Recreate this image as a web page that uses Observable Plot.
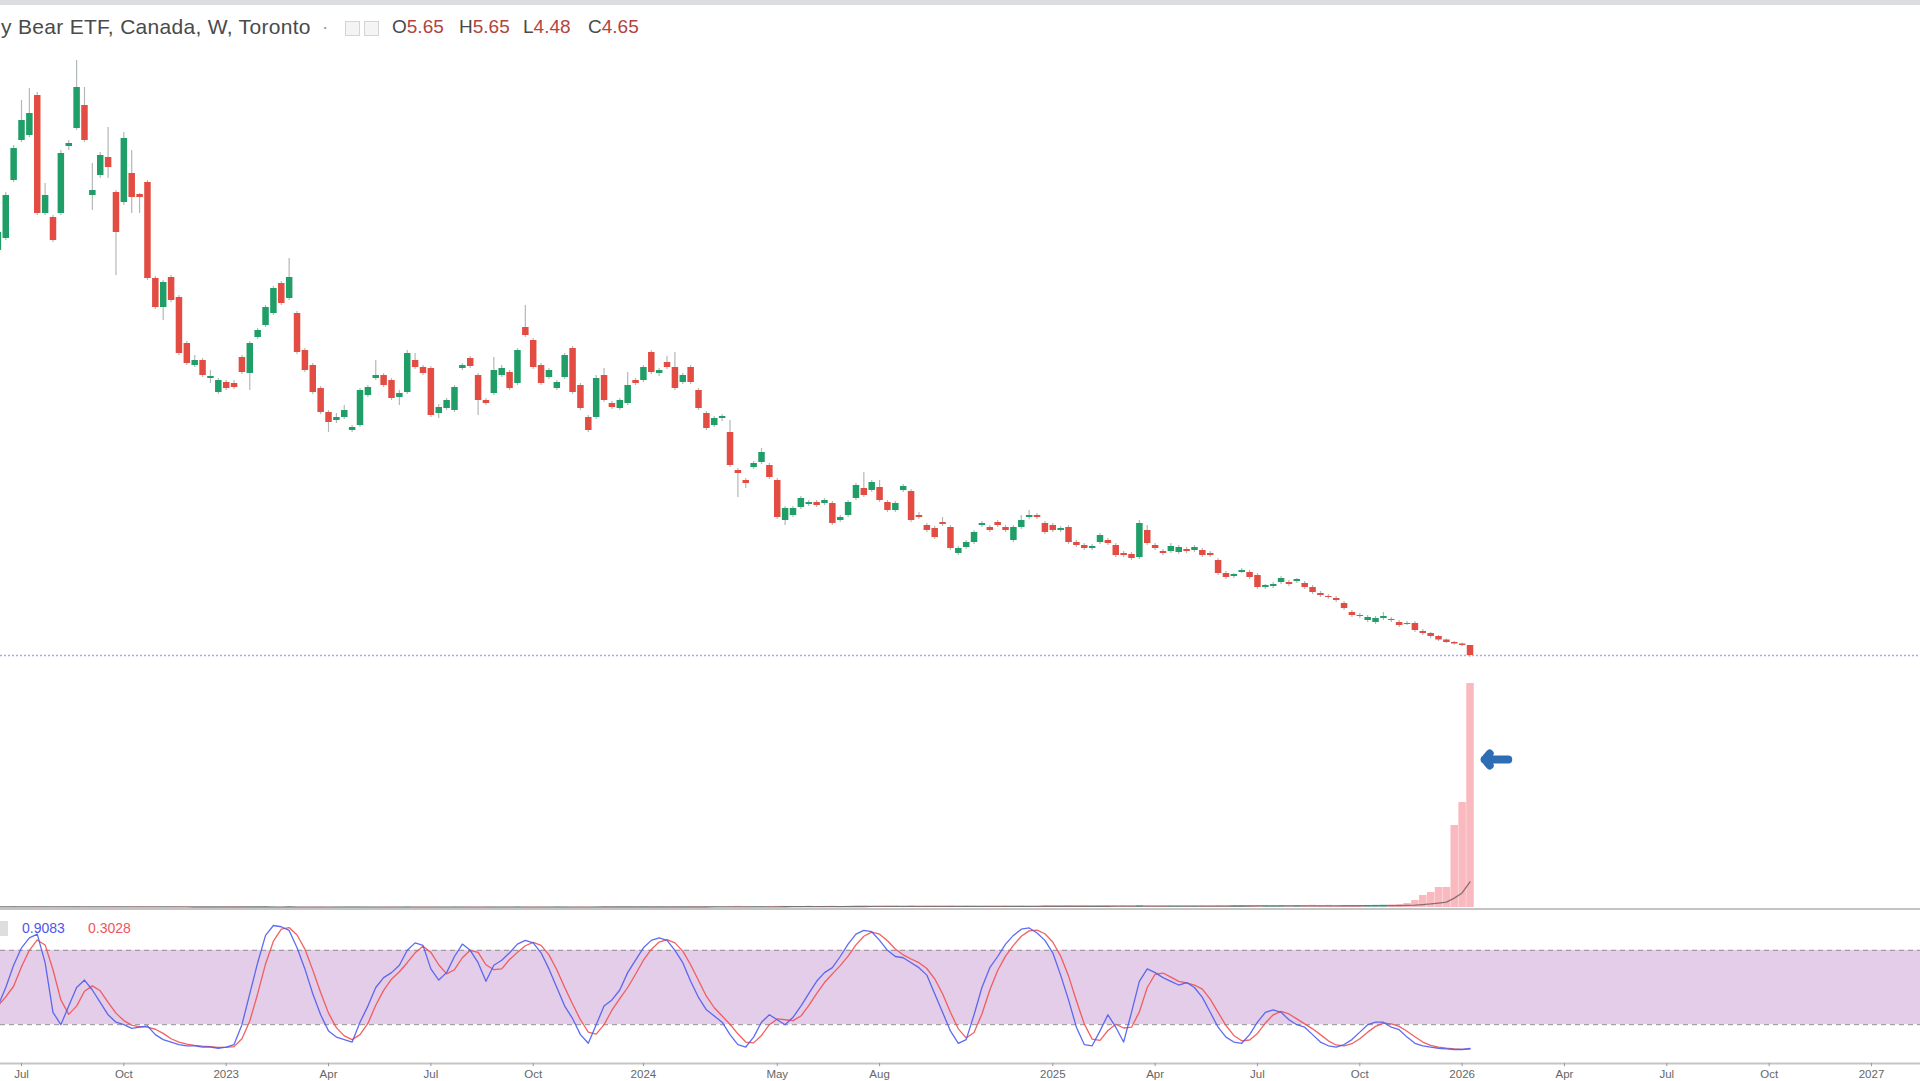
<!DOCTYPE html>
<html><head><meta charset="utf-8">
<script src="https://cdn.jsdelivr.net/npm/d3@7"></script>
<script src="https://cdn.jsdelivr.net/npm/@observablehq/plot@0.6"></script>
<style>
html,body{margin:0;padding:0;background:#fff;overflow:hidden}
#wrap{position:relative;width:1920px;height:1081px;overflow:hidden;font-family:"Liberation Sans",Arial,sans-serif}
.abs{position:absolute}
#topbar{left:0;top:0;width:1920px;height:5px;background:#dcdde1}
.hd{position:absolute;top:16px;font-size:19px;line-height:22px;white-space:nowrap;color:#4a4a4a}
.hd b{font-weight:normal;color:#b3443c}
.box{position:absolute;top:21px;width:13px;height:13px;border:1px solid #d4d4d4;background:#f4f4f4}
.lg{position:absolute;top:920px;font-size:14px;line-height:16px;white-space:nowrap}
#sep{left:0;top:908px;width:1920px;height:2px;background:#c4c4c4}
</style></head>
<body><div id="wrap">
<div id="topbar" class="abs"></div>
<div class="hd" style="left:1px;font-size:21px;letter-spacing:0.3px">y Bear ETF, Canada, W, Toronto</div>
<div class="hd" style="left:322px;color:#999">·</div>
<div class="box" style="left:345px"></div>
<div class="box" style="left:364px"></div>
<div class="hd" id="oV" style="left:392px"></div>
<div class="hd" id="hV" style="left:459px"></div>
<div class="hd" id="lV" style="left:523px"></div>
<div class="hd" id="cV" style="left:588px"></div>
<div id="pricePanel" class="abs" style="left:0;top:0"></div>
<div id="volPanel" class="abs" style="left:0;top:661px"></div>
<div id="sep" class="abs"></div>
<div id="stochPanel" class="abs" style="left:0;top:910px"></div>
<div id="axisPanel" class="abs" style="left:0;top:1062px"></div>
<div class="abs" style="left:-2px;top:921px;width:10px;height:15px;background:#dedede"></div>
<div class="lg" id="kLabel" style="left:22px;color:#4c56ee"></div>
<div class="lg" id="dLabel" style="left:88px;color:#f2545b"></div>
</div>
<script>
// ---- data (weekly bars) ----
const open = [45.15,46.35,52.15,56.15,56.65,60.65,48.85,48.45,48.85,55.55,57.35,59.65,50.65,52.65,54.45,50.95,49.95,52.85,50.75,51.95,
42.35,39.45,42.45,40.45,35.85,33.65,34.15,32.35,30.95,31.95,31.85,34.45,32.85,36.45,37.65,38.85,41.85,40.35,38.85,35.15,
33.65,31.35,28.95,28.15,28.45,27.15,27.65,30.65,32.35,32.65,32.15,30.45,30.95,34.15,33.45,33.35,28.85,29.35,29.15,33.35,
34.35,32.65,30.15,30.85,32.65,32.95,31.85,37.45,36.15,33.65,32.45,31.35,32.45,35.35,31.65,28.45,28.45,32.65,29.85,29.35,
29.85,32.15,32.15,34.95,32.85,33.95,33.45,31.95,33.45,31.15,28.85,27.65,28.35,26.95,23.15,22.15,23.45,23.95,23.65,22.15,
18.15,18.65,19.45,19.75,19.95,19.85,19.85,18.15,18.65,20.35,21.35,21.15,21.45,19.95,19.15,21.15,21.05,18.65,17.65,17.35,
17.95,17.45,14.85,15.45,15.95,17.65,17.45,17.95,17.45,16.15,17.45,18.45,18.65,17.85,17.65,17.15,17.45,15.95,15.65,15.35,
15.95,16.15,15.65,14.85,14.75,14.45,17.15,15.65,15.05,15.05,14.95,15.25,15.15,15.15,14.85,14.15,12.85,12.55,12.95,12.95,
12.65,11.45,11.55,11.95,11.95,12.05,11.85,11.45,10.85,10.55,10.35,9.85,8.95,8.65,8.15,7.95,8.35,8.25,7.95,7.85,
7.85,7.05,6.85,6.55,6.2,5.95,5.8,5.65];
const high = [47.55,50.95,55.65,60.15,61.35,60.95,51.85,48.65,55.15,56.15,64.15,61.45,53.85,54.95,57.45,51.15,56.95,55.15,50.85,52.15,
42.55,42.15,42.65,40.65,36.05,34.65,34.35,33.15,32.35,32.15,32.15,34.65,36.05,37.35,39.65,41.55,42.05,44.35,39.05,35.35,
33.85,31.55,29.15,28.85,29.65,27.65,31.35,31.65,34.15,32.85,32.35,31.15,35.15,34.85,33.65,33.55,29.75,30.35,31.65,33.85,
34.55,32.85,30.35,34.45,33.65,33.15,35.35,39.65,36.35,33.85,33.35,32.15,34.85,35.55,31.85,28.65,32.65,33.35,30.05,30.35,
32.95,32.35,33.65,35.15,33.35,34.55,34.95,32.85,33.65,31.35,29.05,28.55,28.75,28.15,23.35,22.35,24.05,25.35,23.85,22.35,
19.55,19.55,20.55,20.15,20.15,20.35,20.05,18.65,20.15,21.85,22.95,22.15,22.15,20.15,20.05,21.75,21.25,18.95,17.85,17.55,
18.45,17.65,15.55,16.15,17.15,18.05,17.65,18.15,17.65,17.65,18.65,19.15,18.85,18.05,17.85,17.55,17.65,16.15,15.85,15.75,
16.85,16.35,15.85,15.05,14.95,18.15,17.65,15.85,15.25,15.85,15.65,15.45,15.65,15.35,15.05,14.35,13.05,12.85,13.35,13.15,
12.85,11.75,11.95,12.55,12.15,12.35,12.05,11.65,11.05,10.75,10.55,10.05,9.15,8.85,8.65,8.55,8.95,8.45,8.15,8.05,
8.05,7.25,6.95,6.65,6.3,6.05,5.9,5.65];
const low = [44.35,46.15,51.95,55.95,56.45,48.65,48.65,45.95,48.65,55.15,57.15,55.95,49.15,52.35,52.35,42.65,49.65,48.85,48.85,42.15,
39.25,38.15,39.95,34.65,33.65,33.45,32.45,31.85,30.75,31.15,31.25,32.75,31.15,36.25,37.45,38.65,39.65,40.15,34.75,32.95,
30.75,28.75,26.95,27.85,28.25,26.95,27.45,30.45,32.15,31.45,30.15,29.65,30.75,33.25,32.65,28.45,28.35,29.15,28.95,33.15,
33.35,28.65,29.65,30.65,32.45,31.15,31.65,36.45,33.25,31.65,32.25,31.15,32.25,30.75,29.15,26.95,28.25,29.95,29.25,29.15,
29.65,31.65,31.95,32.75,32.55,33.25,31.15,31.75,31.75,29.15,27.15,27.45,28.05,23.45,20.45,21.35,23.25,23.75,22.25,18.25,
17.65,18.45,19.25,19.55,19.45,19.65,17.65,17.95,18.45,20.15,20.45,20.95,19.95,18.95,18.95,20.95,17.95,18.25,16.95,16.25,
17.55,15.15,14.65,15.25,15.75,17.45,16.95,17.45,16.95,15.95,17.25,18.25,18.25,16.75,16.95,16.95,15.75,15.45,15.15,15.15,
15.75,15.65,14.45,14.45,14.15,14.25,15.65,15.15,14.65,14.85,14.75,14.85,14.95,14.45,14.45,12.65,12.25,12.35,12.85,12.25,
11.25,11.25,11.35,11.75,11.55,11.85,11.25,10.75,10.45,10.25,9.95,9.15,8.45,8.35,7.95,7.75,8.15,7.95,7.45,7.65,
6.95,6.65,6.35,6.05,5.85,5.7,5.55,4.48];
const close = [46.95,50.65,55.35,58.15,58.85,48.85,50.65,46.15,54.85,55.85,61.45,56.15,51.15,54.65,53.45,46.95,56.35,50.45,50.45,42.35,
39.45,41.95,40.15,34.85,33.85,34.15,32.65,32.55,32.15,31.35,31.45,32.95,35.85,37.15,39.45,41.35,39.85,42.45,34.95,33.15,
30.95,28.95,27.95,28.45,29.15,27.45,31.15,31.45,32.65,31.65,30.35,30.85,34.85,33.45,32.85,28.65,29.45,30.15,31.45,33.65,
33.55,30.15,29.85,33.15,33.35,31.35,35.15,36.65,33.45,31.85,33.15,31.95,34.65,30.95,29.35,27.15,32.35,30.15,29.45,30.15,
31.65,31.85,33.45,32.95,33.15,33.45,31.35,32.65,31.95,29.35,27.35,28.35,28.55,23.65,22.85,21.85,23.85,24.95,22.45,18.45,
19.35,19.35,20.35,19.95,19.65,20.15,17.85,18.45,19.95,21.65,20.65,21.95,20.15,19.15,19.85,21.55,18.15,18.45,17.15,16.45,
17.75,15.35,15.35,15.95,16.95,17.85,17.15,17.65,17.15,17.45,18.15,18.65,18.45,16.95,17.15,17.35,15.95,15.65,15.35,15.55,
16.65,15.85,14.65,14.65,14.35,17.85,15.85,15.35,14.85,15.55,15.45,15.05,15.45,14.65,14.65,12.85,12.45,12.75,13.15,12.45,
11.45,11.65,11.75,12.35,11.75,12.25,11.45,10.95,10.65,10.45,10.15,9.35,8.65,8.55,8.45,8.35,8.55,8.15,7.65,7.75,
7.15,6.85,6.55,6.2,5.95,5.8,5.65,4.65];
// volume, thousands of shares
const volume = [6,5,7,4,5,8,6,5,4,6,7,5,4,5,6,8,5,4,6,5,
5,4,6,5,4,3,5,4,3,4,5,6,4,5,7,5,4,6,5,4,
4,5,3,4,5,6,5,4,3,4,5,4,6,5,4,5,4,3,5,4,
5,4,6,5,4,5,6,5,4,5,4,6,5,4,5,4,5,6,4,5,
5,4,6,5,5,4,6,5,7,6,8,7,6,10,12,9,8,9,10,12,
11,10,9,12,10,11,13,10,12,11,12,10,11,13,12,10,14,11,12,13,
12,14,11,13,12,11,13,12,14,12,13,11,12,14,13,12,15,13,14,12,
13,15,14,16,15,20,14,13,15,14,13,15,14,16,15,18,16,15,17,16,
18,17,16,18,17,19,20,22,20,21,15,16,18,18,20,22,24,26,30,40,
70,120,150,200,200,820,1050,2240];
// Stochastic %K (14, 3, 3)
const stochK = [35,50,68,82,90,93,70,30,20,35,
50,56,48,38,28,22,20,17,18,19,
12,8,6,4,3,3,2,2,1,2,
4,20,45,70,92,100,99,96,82,65,
45,28,15,10,8,6,22,35,50,58,
62,68,80,86,84,65,56,62,75,85,
80,70,55,68,72,78,85,88,86,78,
65,50,35,25,12,5,20,35,40,48,
62,72,82,88,90,88,80,70,55,42,
32,27,22,12,4,2,10,22,28,24,
20,26,35,45,55,62,66,75,85,93,
96,95,88,80,75,74,70,66,60,45,
30,15,5,8,28,50,66,75,85,92,
97,98,94,88,78,60,40,18,4,3,
15,28,18,6,30,55,65,62,58,55,
52,54,50,42,30,18,10,6,5,12,
22,30,32,30,24,20,18,12,6,3,
2,4,8,14,20,22,22,18,16,10,
5,3,2,1,0.5,0,0,0.9083];
const stochBands = [20, 80];
const firstBar = "2022-06-13";
const axisTickDates = ["2022-07-04","2022-10-03","2023-01-02","2023-04-03","2023-07-03","2023-10-02","2024-01-08","2024-05-06","2024-08-05","2025-01-06","2025-04-07","2025-07-07","2025-10-06","2026-01-05","2026-04-06","2026-07-06","2026-10-05","2027-01-04"];
const axisTickLabels = ["Jul","Oct","2023","Apr","Jul","Oct","2024","May","Aug","2025","Apr","Jul","Oct","2026","Apr","Jul","Oct","2027"];
const arrowNote = [{from:"2026-02-15", to:"2026-01-25", level:1480}];

// ---- build ----
const UP = "#1f9e68", DOWN = "#e24c43";
const UPV = "rgba(8,153,129,0.45)", DOWNV = "rgba(242,54,69,0.35)";
const N = close.length;
const t0 = new Date(firstBar + "T00:00:00Z").getTime();
const bars = d3.range(N).map(i => ({
  date: new Date(t0 + i * 7 * 864e5),
  open: open[i], high: high[i], low: low[i], close: close[i],
  volume: volume[i], k: stochK[i], up: close[i] >= open[i]
}));
const xDomain = [new Date("2022-07-04T00:00:00Z"), new Date("2027-01-04T00:00:00Z")];
const xRange = [21, 1871];
const xOpt = {type: "utc", domain: xDomain, range: xRange, axis: null};
const sx = d3.scaleUtc(xDomain, xRange);

// header
const o = open[N-1], h = high[N-1], l = low[N-1], c = close[N-1];
document.getElementById("oV").innerHTML = `O<b>${o.toFixed(2)}</b>`;
document.getElementById("hV").innerHTML = `H<b>${h.toFixed(2)}</b>`;
document.getElementById("lV").innerHTML = `L<b>${l.toFixed(2)}</b>`;
document.getElementById("cV").innerHTML = `C<b>${c.toFixed(2)}</b>`;

// price panel
const pricePlot = Plot.plot({
  width: 1920, height: 661, margin: 0,
  x: xOpt, y: {domain: [4.05, 70.15], axis: null},
  color: {type: "identity"},
  marks: [
    Plot.ruleY([c], {stroke: "#a3a9f0", strokeWidth: 1.5, strokeDasharray: "2,2"}),
    Plot.ruleX(bars, {x: "date", y1: "low", y2: "high", stroke: "#b3b8b8", strokeWidth: 1.2}),
    Plot.ruleX(bars, {x: "date", y1: "open", y2: "close", stroke: d => d.up ? UP : DOWN, strokeWidth: 6.5})
  ]
});
document.getElementById("pricePanel").append(pricePlot);

// volume panel
const volPlot = Plot.plot({
  width: 1920, height: 248, margin: 0,
  x: xOpt, y: {domain: [0, 2460], range: [246, 0], axis: null},
  color: {type: "identity"},
  marks: [
    Plot.ruleX(bars, {x: "date", y1: 0, y2: "volume", stroke: d => d.up ? UPV : DOWNV, strokeWidth: 7.5}),
    Plot.lineY(bars, Plot.windowY({k: 20, anchor: "end", reduce: "mean"}, {x: "date", y: "volume", stroke: "#6b5b5b", strokeWidth: 1.3, strokeOpacity: 0.8})),
    Plot.arrow(arrowNote, {x1: d => new Date(d.from + "T00:00:00Z"), x2: d => new Date(d.to + "T00:00:00Z"), y1: "level", y2: "level",
      stroke: "#2e6db4", strokeWidth: 8, headLength: 22, headAngle: 100, strokeLinecap: "round", strokeLinejoin: "round"})
  ]
});
document.getElementById("volPanel").append(volPlot);

// stochastic panel
const band = [{x1: sx.invert(-10), x2: sx.invert(1930), y1: stochBands[0], y2: stochBands[1]}];
const stochPlot = Plot.plot({
  width: 1920, height: 153, margin: 0,
  x: xOpt, y: {domain: [0, 100], range: [139, 15], axis: null},
  marks: [
    Plot.rect(band, {x1: "x1", x2: "x2", y1: "y1", y2: "y2", fill: "#e4cde8"}),
    Plot.ruleY(stochBands, {stroke: "#8f8f8f", strokeWidth: 1, strokeDasharray: "5,4"}),
    Plot.lineY(bars, Plot.windowY({k: 3, anchor: "end", reduce: "mean"}, {x: "date", y: "k", stroke: "#f25050", strokeWidth: 1.3, strokeOpacity: 0.9})),
    Plot.lineY(bars, {x: "date", y: "k", stroke: "#4c5cf0", strokeWidth: 1.3, strokeOpacity: 0.9})
  ]
});
document.getElementById("stochPanel").append(stochPlot);
const lastK = stochK[N-1];
const lastD = d3.mean(stochK.slice(N-3));
document.getElementById("kLabel").textContent = lastK.toFixed(4);
document.getElementById("dLabel").textContent = lastD.toFixed(4);

// time axis
const ticks = axisTickDates.map((d, i) => ({date: new Date(d + "T00:00:00Z"), label: axisTickLabels[i]}));
const axisPlot = Plot.plot({
  width: 1920, height: 19, margin: 0,
  x: xOpt, y: {domain: [0, 1], range: [19, 0], axis: null},
  marks: [
    Plot.ruleY([0.95], {stroke: "#c6c6c6", strokeWidth: 2}),
    Plot.ruleX(ticks, {x: "date", y1: 0.95, y2: 0.78, stroke: "#9a9a9a"}),
    Plot.text(ticks, {x: "date", y: 0.4, text: "label", fill: "#666", fontSize: 11.5, fontFamily: "Liberation Sans, Arial, sans-serif"})
  ]
});
document.getElementById("axisPanel").append(axisPlot);
</script>
</body></html>
